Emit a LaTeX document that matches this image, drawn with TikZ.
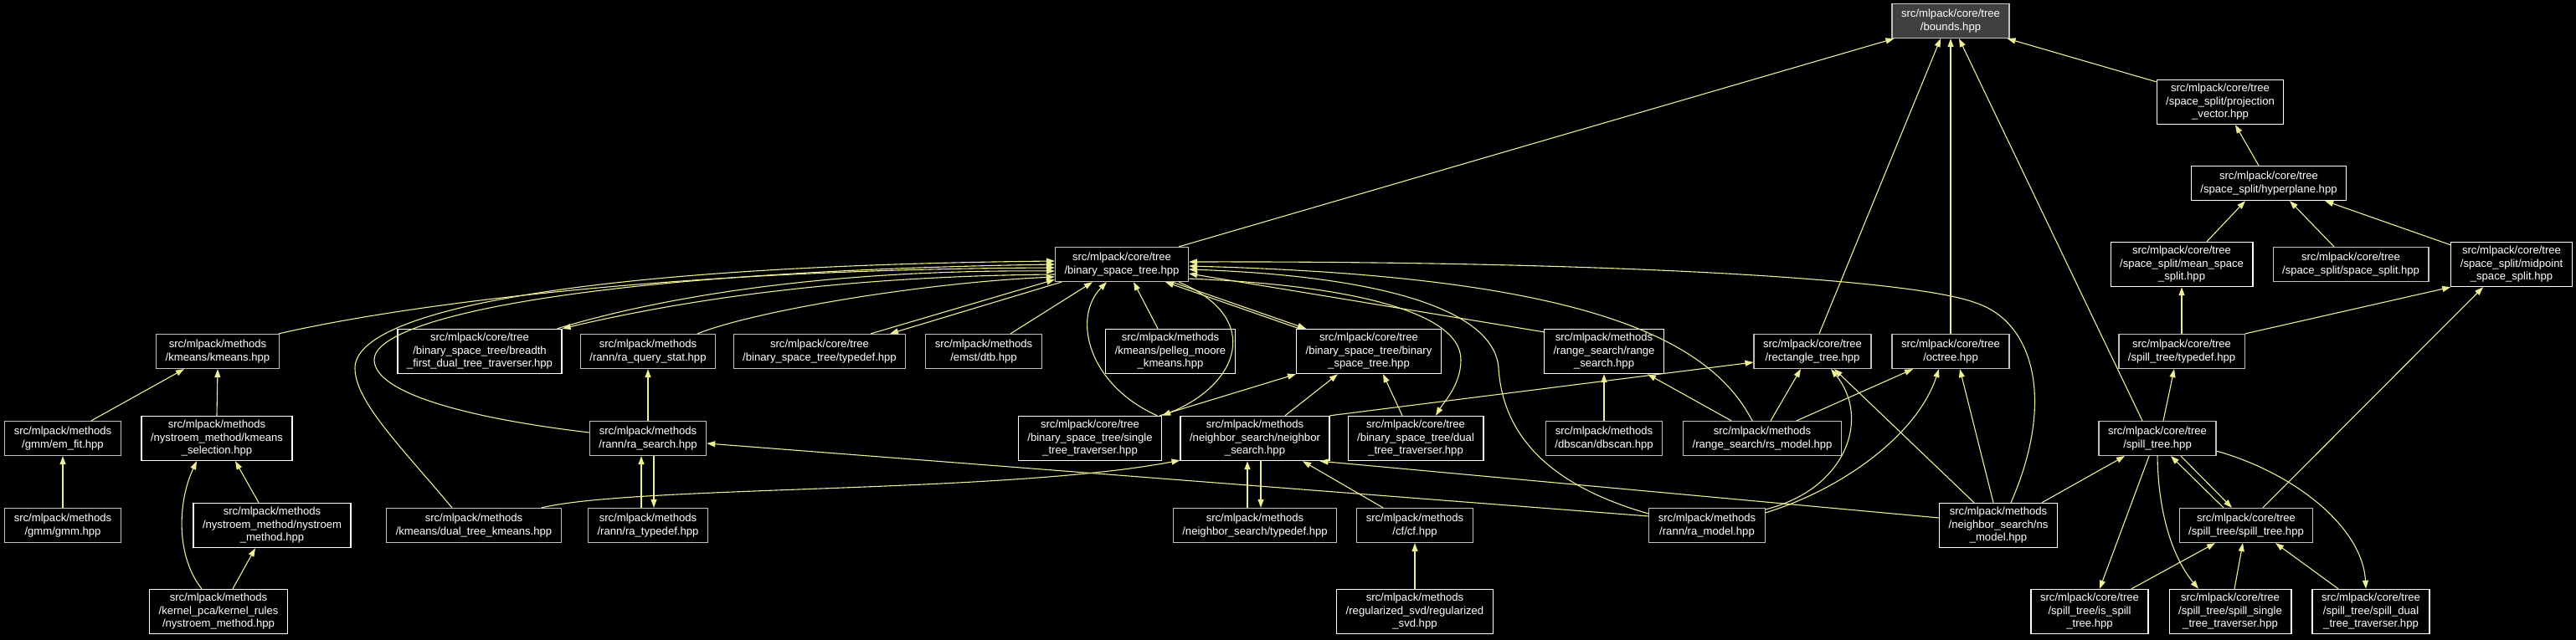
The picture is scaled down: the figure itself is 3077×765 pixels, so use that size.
\documentclass[tikz,border=0pt]{standalone}
\usepackage{fontspec}
\setmainfont{Liberation Sans}
\usetikzlibrary{arrows.meta}

\definecolor{edgeyellow}{RGB}{238,238,150}
\definecolor{boxgrey}{RGB}{191,191,191}
\definecolor{rootfill}{RGB}{64,64,64}

\begin{document}
\begin{tikzpicture}[x=1pt,y=-1pt]
% How to define the boxes and the arrows
\tikzstyle{white_box} = [rectangle, draw=white, line width=1.2pt, fill=black, text=white, align=center, font=\fontsize{13.1}{15.5}\selectfont, inner xsep=11pt, inner ysep=5pt, minimum height=41pt]
\tikzstyle{grey_box} = [white_box, draw=boxgrey]
\tikzstyle{root_box} = [grey_box, fill=rootfill]
\tikzstyle{arrow} = [draw=edgeyellow, line width=1.1pt, -{Triangle[length=10pt,width=7pt]}]

\fill[black] (0,0) rectangle (3077,765);

% Start initiating nodes
\node (bounds) [root_box] at (2330,25) {src/mlpack/core/tree\\/bounds.hpp};

\node (projvec) [white_box] at (2652,122) {src/mlpack/core/tree\\/space\_split/projection\\\_vector.hpp};
\node (hyperplane) [white_box] at (2710,219) {src/mlpack/core/tree\\/space\_split/hyperplane.hpp};
\node (meansplit) [white_box] at (2606,316) {src/mlpack/core/tree\\/space\_split/mean\_space\\\_split.hpp};
\node (spacesplit) [grey_box] at (2808,316) {src/mlpack/core/tree\\/space\_split/space\_split.hpp};
\node (midsplit) [white_box] at (3000,316) {src/mlpack/core/tree\\/space\_split/midpoint\\\_space\_split.hpp};

\node (bst) [grey_box] at (1340,316) {src/mlpack/core/tree\\/binary\_space\_tree.hpp};

\node (kmeans) [grey_box] at (260,420) {src/mlpack/methods\\/kmeans/kmeans.hpp};
\node (breadth) [white_box] at (573,420) {src/mlpack/core/tree\\/binary\_space\_tree/breadth\\\_first\_dual\_tree\_traverser.hpp};
\node (raquery) [grey_box] at (774,420) {src/mlpack/methods\\/rann/ra\_query\_stat.hpp};
\node (bsttypedef) [grey_box] at (979,420) {src/mlpack/core/tree\\/binary\_space\_tree/typedef.hpp};
\node (dtb) [grey_box] at (1175,420) {src/mlpack/methods\\/emst/dtb.hpp};
\node (pelleg) [white_box] at (1398,420) {src/mlpack/methods\\/kmeans/pelleg\_moore\\\_kmeans.hpp};
\node (bstbst) [white_box] at (1635,420) {src/mlpack/core/tree\\/binary\_space\_tree/binary\\\_space\_tree.hpp};
\node (rangesearch) [white_box] at (1916,420) {src/mlpack/methods\\/range\_search/range\\\_search.hpp};
\node (recttree) [grey_box] at (2165,420) {src/mlpack/core/tree\\/rectangle\_tree.hpp};
\node (octree) [grey_box] at (2330,420) {src/mlpack/core/tree\\/octree.hpp};
\node (spilltypedef) [grey_box] at (2606,420) {src/mlpack/core/tree\\/spill\_tree/typedef.hpp};

\node (emfit) [grey_box] at (75,524) {src/mlpack/methods\\/gmm/em\_fit.hpp};
\node (kmsel) [white_box] at (259,524) {src/mlpack/methods\\/nystroem\_method/kmeans\\\_selection.hpp};
\node (rasearch) [grey_box] at (774,524) {src/mlpack/methods\\/rann/ra\_search.hpp};
\node (singletrav) [white_box] at (1302,524) {src/mlpack/core/tree\\/binary\_space\_tree/single\\\_tree\_traverser.hpp};
\node (nsearch) [white_box] at (1499,524) {src/mlpack/methods\\/neighbor\_search/neighbor\\\_search.hpp};
\node (dualtrav) [white_box] at (1691,524) {src/mlpack/core/tree\\/binary\_space\_tree/dual\\\_tree\_traverser.hpp};
\node (dbscan) [grey_box] at (1916,524) {src/mlpack/methods\\/dbscan/dbscan.hpp};
\node (rsmodel) [grey_box] at (2105,524) {src/mlpack/methods\\/range\_search/rs\_model.hpp};
\node (spilltree) [grey_box] at (2577,524) {src/mlpack/core/tree\\/spill\_tree.hpp};

\node (gmm) [grey_box] at (75,628) {src/mlpack/methods\\/gmm/gmm.hpp};
\node (nysmethod) [white_box] at (325,628) {src/mlpack/methods\\/nystroem\_method/nystroem\\\_method.hpp};
\node (dualkmeans) [grey_box] at (566,628) {src/mlpack/methods\\/kmeans/dual\_tree\_kmeans.hpp};
\node (ratypedef) [grey_box] at (774,628) {src/mlpack/methods\\/rann/ra\_typedef.hpp};
\node (nstypedef) [grey_box] at (1499,628) {src/mlpack/methods\\/neighbor\_search/typedef.hpp};
\node (cf) [grey_box] at (1690,628) {src/mlpack/methods\\/cf/cf.hpp};
\node (ramodel) [grey_box] at (2039,628) {src/mlpack/methods\\/rann/ra\_model.hpp};
\node (nsmodel) [white_box] at (2387,628) {src/mlpack/methods\\/neighbor\_search/ns\\\_model.hpp};
\node (spillspill) [grey_box] at (2683,628) {src/mlpack/core/tree\\/spill\_tree/spill\_tree.hpp};

\node (kernelrules) [white_box] at (261,731) {src/mlpack/methods\\/kernel\_pca/kernel\_rules\\/nystroem\_method.hpp};
\node (regsvd) [white_box] at (1690,731) {src/mlpack/methods\\/regularized\_svd/regularized\\\_svd.hpp};
\node (isspill) [white_box] at (2496,731) {src/mlpack/core/tree\\/spill\_tree/is\_spill\\\_tree.hpp};
\node (spillsingle) [white_box] at (2664,731) {src/mlpack/core/tree\\/spill\_tree/spill\_single\\\_tree\_traverser.hpp};
\node (spilldual) [white_box] at (2832,731) {src/mlpack/core/tree\\/spill\_tree/spill\_dual\\\_tree\_traverser.hpp};

% Draw arrows for connection
\draw [arrow] ([xshift=-12pt]bst.north east) -- ([xshift=3pt]bounds.south west);
\draw [arrow] ([yshift=-3pt]projvec.north west) -- ([xshift=-3pt]bounds.south east);
\draw [arrow] ([xshift=8pt]recttree.north) -- ([xshift=-12pt]bounds.south);
\draw [arrow] (octree.north) -- (bounds.south);
\draw [arrow] ([xshift=-18pt]spilltree.north) -- ([xshift=10pt]bounds.south);

\draw [arrow] ([xshift=-12pt]hyperplane.north) -- ([xshift=18pt]projvec.south);
\draw [arrow] ([xshift=30pt]meansplit.north) -- ([xshift=-28pt]hyperplane.south);
\draw [arrow] ([xshift=-20pt]spacesplit.north) -- ([xshift=25pt]hyperplane.south);
\draw [arrow] ([yshift=-4pt]midsplit.north west) -- ([xshift=-26pt]hyperplane.south east);
\draw [arrow] (spilltypedef.north) -- (meansplit.south);
\draw [arrow] (spilltypedef.north east) -- (midsplit.south west);
\draw [arrow] ([xshift=20pt]spillspill.north) -- ([xshift=-34pt]midsplit.south);

\draw [arrow] ([xshift=7pt]spilltree.north) -- ([xshift=-9pt]spilltypedef.south);
\draw [arrow] ([xshift=-19pt]nsmodel.north east) -- ([xshift=-39pt]spilltree.south);
\draw [arrow] ([xshift=-27pt]spillspill.north) -- ([xshift=16pt]spilltree.south);
\draw [arrow] ([xshift=28pt]spilltree.south) -- ([xshift=-17pt]spillspill.north);
\draw [arrow] ([xshift=-10pt]spilltree.south) -- ([xshift=12pt]isspill.north);
\draw [arrow] (spilltree.south) .. controls (2578,620) and (2598,670) .. ([xshift=-38pt]spillsingle.north);
\draw [arrow] ([yshift=6pt]spilltree.south east) .. controls (2740,565) and (2822,630) .. ([xshift=-6pt]spilldual.north);
\draw [arrow] ([xshift=50pt]isspill.north) -- ([xshift=-37pt]spillspill.south);
\draw [arrow] ([xshift=5pt]spillsingle.north) -- ([xshift=-4pt]spillspill.south);
\draw [arrow] ([xshift=-39pt]spilldual.north) -- ([xshift=35pt]spillspill.south);

\draw [arrow] ([xshift=10pt]rsmodel.north) -- ([xshift=-14pt]recttree.south);
\draw [arrow] ([yshift=-2pt]ramodel.north east) .. controls (2205,585) and (2235,500) .. ([xshift=22pt]recttree.south);
\draw [arrow] ([xshift=-29pt]nsmodel.north) -- ([xshift=26pt]recttree.south);
\draw [arrow] (nsearch.north east) -- ([yshift=-13pt]recttree.west);
\draw [arrow] ([xshift=41pt]rsmodel.north) -- ([xshift=-45pt]octree.south);
\draw [arrow] ([yshift=-6pt]ramodel.north east) .. controls (2200,585) and (2290,520) .. ([xshift=-14pt]octree.south);
\draw [arrow] ([xshift=-6pt]nsmodel.north) -- ([xshift=11pt]octree.south);

\draw [arrow] (dbscan.north) -- (rangesearch.south);
\draw [arrow] ([xshift=-37pt]rsmodel.north) -- ([xshift=52pt]rangesearch.south);

\draw [arrow] ([yshift=9pt]nsmodel.west) -- ([xshift=-12pt]nsearch.south east);
\draw [arrow] ([xshift=-9pt]nstypedef.north) -- ([xshift=-9pt]nsearch.south);
\draw [arrow] ([xshift=7pt]nsearch.south) -- ([xshift=7pt]nstypedef.north);
\draw [arrow] ([xshift=-38pt]cf.north) -- ([xshift=57pt]nsearch.south);
\draw [arrow] (regsvd.north) -- (cf.south);
\draw [arrow] ([xshift=-24pt]dualkmeans.north east) .. controls (760,580) and (1200,590) .. ([yshift=1pt]nsearch.south west);

\draw [arrow] ([yshift=11pt]ramodel.west) -- ([yshift=-6pt]rasearch.east);
\draw [arrow] (rasearch.north) -- (raquery.south);
\draw [arrow] ([xshift=-8pt]ratypedef.north) -- ([xshift=-8pt]rasearch.south);
\draw [arrow] ([xshift=7pt]rasearch.south) -- ([xshift=7pt]ratypedef.north);

\draw [arrow] ([xshift=-15pt]pelleg.north) -- ([xshift=14pt]bst.south);
\draw [arrow] ([xshift=32pt]dtb.north) -- ([xshift=-35pt]bst.south);
\draw [arrow] ([xshift=61pt]bsttypedef.north) -- ([yshift=3pt]bst.south west);
\draw [arrow] ([xshift=8pt]bst.south west) -- ([xshift=84pt]bsttypedef.north);
\draw [arrow] ([xshift=59pt]raquery.north) .. controls (900,372) and (1100,338) .. ([yshift=-15pt]bst.west);
\draw [arrow] ([xshift=-6pt]breadth.north east) .. controls (800,352) and (1000,322) .. ([yshift=-8pt]bst.west);
\draw [arrow] ([yshift=-12pt]bst.west) .. controls (1000,330) and (810,360) .. (breadth.north east);
\draw [arrow] ([xshift=-1pt]kmeans.north east) .. controls (480,365) and (800,322) .. ([yshift=-4pt]bst.west);
\draw [arrow] ([yshift=7pt]rasearch.west) .. controls (560,500) and (447,470) .. (447,430) .. controls (447,380) and (700,325) .. (bst.west);
\draw [arrow] ([xshift=-26pt]dualkmeans.north) .. controls (480,535) and (424,480) .. (424,440) .. controls (424,370) and (700,318) .. ([yshift=4pt]bst.west);

\draw [arrow] ([xshift=-6pt]singletrav.north east) .. controls (1300,460) and (1280,380) .. ([xshift=-18pt]bst.south);
\draw [arrow] ([xshift=68pt]bst.south) .. controls (1510,380) and (1480,460) .. (singletrav.north east);
\draw [arrow] ([xshift=-3pt]singletrav.north east) -- (bstbst.south west);
\draw [arrow] ([xshift=36pt]nsearch.north) -- ([xshift=-37pt]bstbst.south);
\draw [arrow] ([xshift=-16pt]dualtrav.north) -- ([xshift=17pt]bstbst.south);
\draw [arrow] ([xshift=60pt]bst.south) -- ([xshift=-75pt]bstbst.north);
\draw [arrow] ([xshift=-83pt]bstbst.north) -- ([xshift=52pt]bst.south);
\draw [arrow] ([yshift=4pt]bst.south east) .. controls (1600,340) and (1745,370) .. (1745,430) .. controls (1745,460) and (1725,480) .. ([xshift=24pt]dualtrav.north);

\draw [arrow] ([yshift=-4pt]rangesearch.north west) -- ([yshift=-11pt]bst.east);
\draw [arrow] ([xshift=-12pt]rsmodel.north) .. controls (2040,400) and (1880,330) .. ([yshift=-2pt]bst.east);
\draw [arrow] ([yshift=14pt]ramodel.west) .. controls (1850,580) and (1795,520) .. (1790,440) .. controls (1785,370) and (1650,330) .. ([yshift=-6pt]bst.east);
\draw [arrow] ([xshift=15pt]nsmodel.north) .. controls (2455,480) and (2430,385) .. (2360,362) .. controls (2280,332) and (1900,312) .. ([yshift=3pt]bst.east);

\draw [arrow] ([xshift=34pt]emfit.north) -- ([xshift=-40pt]kmeans.south);
\draw [arrow] (kmsel.north) -- (kmeans.south);
\draw [arrow] (gmm.north) -- (emfit.south);
\draw [arrow] ([xshift=-16pt]nysmethod.north) -- ([xshift=22pt]kmsel.south);
\draw [arrow] ([xshift=-20pt]kernelrules.north) .. controls (210,665) and (212,600) .. ([xshift=-24pt]kmsel.south);
\draw [arrow] ([xshift=17pt]kernelrules.north) -- ([xshift=-20pt]nysmethod.south);
\end{tikzpicture}
\end{document}
